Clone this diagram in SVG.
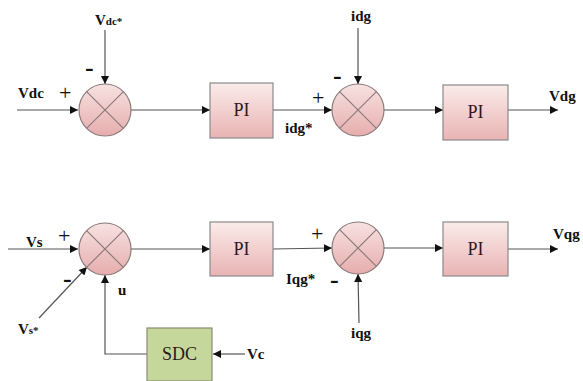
<svg xmlns="http://www.w3.org/2000/svg" width="583" height="381" viewBox="0 0 583 381">
  <defs>
    <linearGradient id="gSum" x1="0" y1="0" x2="0" y2="1">
      <stop offset="0" stop-color="#f7e2e1"/>
      <stop offset="1" stop-color="#e6adad"/>
    </linearGradient>
    <linearGradient id="gPI" x1="0" y1="0" x2="0" y2="1">
      <stop offset="0" stop-color="#faecea"/>
      <stop offset="1" stop-color="#e9b3b3"/>
    </linearGradient>
    <marker id="arr" viewBox="0 0 10 10" refX="10" refY="5" markerWidth="11" markerHeight="8" markerUnits="userSpaceOnUse" orient="auto">
      <path d="M0,0 L10,5 L0,10 Z" fill="#111"/>
    </marker>
    <g id="sumX">
      <circle r="26" fill="url(#gSum)" stroke="#8c7b7b" stroke-width="1.2"/>
      <path d="M-18.4,-18.4 L18.4,18.4 M18.4,-18.4 L-18.4,18.4" stroke="#8c7b7b" stroke-width="1.2"/>
    </g>
  </defs>
  <style>
    .wire { fill: none; stroke: #555; stroke-width: 1.2; }
    .pi { fill: url(#gPI); stroke: #8a8a8a; stroke-width: 1.2; }
    .sdc { fill: #c5d79b; stroke: #8a8d72; stroke-width: 1.2; }
    text { font-family: 'Liberation Serif', 'Times New Roman', serif; }
    .blk { font-size: 18px; fill: #2a1a1a; text-anchor: middle; }
    .lbl { font-size: 15px; font-weight: bold; fill: #111; }
    .plus { font-size: 22px; fill: #111; }
    .minus { font-size: 26px; font-weight: bold; fill: #111; }
  </style>

  <rect width="583" height="381" fill="#ffffff"/>

  <!-- connectors -->
  <g id="connectors">
    <path class="wire" d="M17,110 L78,110" marker-end="url(#arr)"/>
    <path class="wire" d="M105,30 L105,84" marker-end="url(#arr)"/>
    <path class="wire" d="M131,110 L210,110" marker-end="url(#arr)"/>
    <path class="wire" d="M273,110 L332,110" marker-end="url(#arr)"/>
    <path class="wire" d="M358,28 L358,84" marker-end="url(#arr)"/>
    <path class="wire" d="M384,110 L443,110" marker-end="url(#arr)"/>
    <path class="wire" d="M508,110 L558,110" marker-end="url(#arr)"/>

    <path class="wire" d="M8,249 L78,249" marker-end="url(#arr)"/>
    <path class="wire" d="M39,318 L87,267" marker-end="url(#arr)"/>
    <path class="wire" d="M147,354 L105,354 L105,275" marker-end="url(#arr)"/>
    <path class="wire" d="M245,354 L213,354" marker-end="url(#arr)"/>
    <path class="wire" d="M131,249 L210,249" marker-end="url(#arr)"/>
    <path class="wire" d="M273,249 L332,248" marker-end="url(#arr)"/>
    <path class="wire" d="M359,323 L358,274" marker-end="url(#arr)"/>
    <path class="wire" d="M384,248 L443,248" marker-end="url(#arr)"/>
    <path class="wire" d="M508,249 L558,249" marker-end="url(#arr)"/>
  </g>

  <!-- top loop -->
  <g id="sum1"><use href="#sumX" x="105" y="110"/></g>
  <g id="pi1">
    <rect class="pi" x="210" y="83" width="63" height="55"/>
    <text class="blk" x="241.5" y="116">PI</text>
  </g>
  <g id="sum2"><use href="#sumX" x="358" y="110"/></g>
  <g id="pi2">
    <rect class="pi" x="443" y="85" width="65" height="55"/>
    <text class="blk" x="475.5" y="118">PI</text>
  </g>

  <!-- bottom loop -->
  <g id="sum3"><use href="#sumX" x="105" y="249"/></g>
  <g id="pi3">
    <rect class="pi" x="210" y="222" width="63" height="54"/>
    <text class="blk" x="241.5" y="255">PI</text>
  </g>
  <g id="sum4"><use href="#sumX" x="358" y="248"/></g>
  <g id="pi4">
    <rect class="pi" x="443" y="222" width="65" height="54"/>
    <text class="blk" x="475.5" y="255">PI</text>
  </g>
  <g id="sdc">
    <rect class="sdc" x="147" y="328" width="65" height="53"/>
    <text class="blk" x="179.5" y="360">SDC</text>
  </g>

  <!-- labels and signs -->
  <g id="labels">
    <text class="lbl" x="95" y="25">V<tspan font-size="11">dc*</tspan></text>
    <text class="minus" x="85" y="76">-</text>
    <text class="lbl" x="18" y="98">Vdc</text>
    <text class="plus" x="59" y="100">+</text>
    <text class="lbl" x="285" y="133">idg*</text>
    <text class="plus" x="312" y="105">+</text>
    <text class="minus" x="333" y="84">-</text>
    <text class="lbl" x="351" y="21">idg</text>
    <text class="lbl" x="549" y="101">Vdg</text>

    <text class="lbl" x="26" y="247">Vs</text>
    <text class="plus" x="58" y="243">+</text>
    <text class="minus" x="63" y="287">-</text>
    <text class="lbl" x="18" y="334">V<tspan font-size="11">s*</tspan></text>
    <text class="lbl" x="118" y="295">u</text>
    <text class="lbl" x="247" y="359">Vc</text>
    <text class="plus" x="311" y="241">+</text>
    <text class="lbl" x="286" y="284">Iqg*</text>
    <text class="minus" x="330" y="288">-</text>
    <text class="lbl" x="351" y="338">iqg</text>
    <text class="lbl" x="553" y="239">Vqg</text>
  </g>
</svg>
